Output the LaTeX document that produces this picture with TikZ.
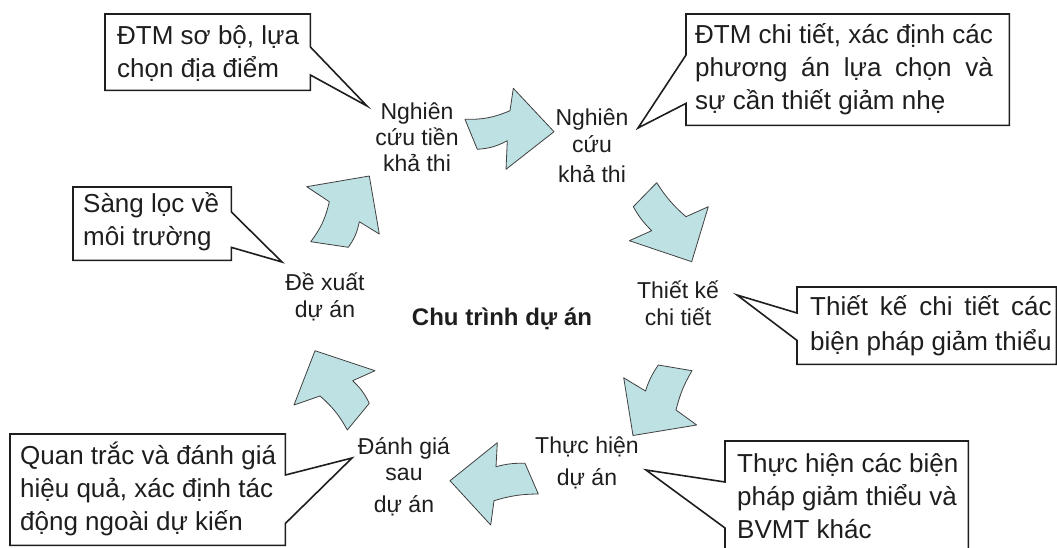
\documentclass[tikz,border=0pt]{standalone}
\usepackage{fontspec}
\setmainfont{Liberation Sans}
\usetikzlibrary{calc}

\definecolor{arrowfill}{RGB}{190,225,228}
\definecolor{ink}{RGB}{30,30,30}
\newlength\fullline

\begin{document}
\begin{tikzpicture}[x=1pt,y=-1pt,
  stage/.style={align=center, font=\fontsize{23}{26}\selectfont, inner sep=0pt, text=ink, anchor=base},
  note/.style={align=left, font=\fontsize{26}{33}\selectfont, inner sep=0pt, anchor=base west, text=ink},
  box/.style={rectangle, draw=none, inner sep=0pt, anchor=north west},
  callout/.style={draw=ink, line width=1.6pt, fill=white, line join=miter},
  blockarrow/.style={fill=arrowfill, draw=black!75, line width=0.8pt, line join=round},
]
\useasboundingbox (0,0) rectangle (1057,548);

% ---- stages of the cycle (positioned by the baseline of their last line) ----
\node[stage] (s1) at (417,172) {Nghiên\\cứu tiền\\khả thi};
\node[stage] (s2) at (592,183) {Nghiên\\[1pt]cứu\\[5pt]khả thi};
\node[stage] (s3) at (678,325) {Thiết kế\\[1pt]chi tiết};
\node[stage] (s4) at (587,485) {Thực hiện\\[6pt]dự án};
\node[stage] (s5) at (404,512) {Đánh giá\\sau\\[6pt]dự án};
\node[stage] (s6) at (325,317) {Đề xuất\\[1pt]dự án};
\node[font=\fontsize{24}{28}\selectfont\bfseries, text=ink, inner sep=0pt, anchor=base] (title) at (502,325) {Chu trình dự án};

% ---- curved block arrows between the stages ----
\draw[blockarrow] (465,119.3) to[bend right=12] (510,110.7) -- (513.3,88.3) -- (554,131.7)
  -- (506,169.3) -- (507.3,140.7) to[bend left=12] (477.3,149.3) -- cycle;
\draw[blockarrow] (656.7,182.7) to[bend right=8] (686,216.7) -- (708.3,206.7) -- (691.7,261.7)
  -- (629.3,240.7) -- (651.7,230.7) to[bend left=8] (633.3,206.7) -- cycle;
\draw[blockarrow] (692,370.7) to[bend right=8] (676,410) -- (696.7,425) -- (633,435.5)
  -- (623.7,377.8) -- (645.5,391) to[bend left=8] (658.3,365) -- cycle;
\draw[blockarrow] (538.3,494) to[bend right=8] (494,500.7) -- (490.7,525) -- (450,480.7)
  -- (497.3,442.7) -- (496,466.7) to[bend left=8] (525,463.3) -- cycle;
\draw[blockarrow] (347.3,430) to[bend right=10] (320,396) -- (294,405) -- (315,350.7)
  -- (375,370.7) -- (352.7,380.7) to[bend left=10] (369.3,403.3) -- cycle;
\draw[blockarrow] (310.7,241.7) to[bend right=12] (329.3,201.7) -- (306.7,186.7) -- (369.3,176)
  -- (379.3,234) -- (359.3,221.7) to[bend left=12] (348.3,247.3) -- cycle;

% ---- callout boxes and their pointers ----
\coordinate (t1) at (367,106);
\coordinate (t2) at (638,128);
\coordinate (t3) at (282,262);
\coordinate (t4) at (737,295);
\coordinate (t5) at (646,470);
\coordinate (t6) at (352,458);

\node[box, minimum width=205, minimum height=76] (c1) at (105,14) {};
\draw[callout] (c1.north west) -- (c1.north east) -- ([yshift=-33pt]c1.north east) -- (t1)
  -- ([yshift=-61pt]c1.north east) -- (c1.south east) -- (c1.south west) -- cycle;
\node[note] (n1) at (117,78) {ĐTM sơ bộ, lựa\\chọn địa điểm};

\node[box, minimum width=323, minimum height=111] (c2) at (686,14) {};
\draw[callout] (c2.north west) -- (c2.north east) -- (c2.south east) -- (c2.south west)
  -- ([yshift=22pt]c2.south west) -- (t2) -- ([yshift=-41pt]c2.north west) -- cycle;
\node[note] (n2) at (695,110) {ĐTM chi tiết, xác định các\\
  \settowidth{\fullline}{ĐTM chi tiết, xác định các}\makebox[\fullline][s]{phương án lựa chọn và}\\
  sự cần thiết giảm nhẹ};

\node[box, minimum width=158, minimum height=73] (c3) at (73,187) {};
\draw[callout] (c3.north west) -- (c3.north east) -- ([yshift=-25pt]c3.north east) -- (t3)
  -- ([yshift=13pt]c3.south east) -- (c3.south east) -- (c3.south west) -- cycle;
\node[note] (n3) at (83,245) {Sàng lọc về\\môi trường};

\node[box, minimum width=259, minimum height=77] (c4) at (797,287) {};
\draw[callout] (c4.north west) -- (c4.north east) -- (c4.south east) -- (c4.south west)
  -- ([yshift=24pt]c4.south west) -- (t4) -- ([yshift=-26pt]c4.north west) -- cycle;
\node[note] (n4) at (810,350) {%
  \settowidth{\fullline}{biện pháp giảm thiểu}\makebox[\fullline][s]{Thiết kế chi tiết các}\\[2pt]
  biện pháp giảm thiểu};

\node[box, minimum width=243, minimum height=112] (c5) at (725,441) {};
\draw[callout] (c5.south west) -- ([yshift=-87pt]c5.north west) -- (t5)
  -- ([yshift=-41pt]c5.north west) -- (c5.north west) -- (c5.north east) -- (c5.south east);
\node[note] (n5) at (737,538) {Thực hiện các biện\\pháp giảm thiểu và\\BVMT khác};

\node[box, minimum width=275, minimum height=111] (c6) at (10,434) {};
\draw[callout] (c6.north west) -- (c6.north east) -- ([yshift=-41pt]c6.north east) -- (t6)
  -- ([yshift=22pt]c6.south east) -- (c6.south east) -- (c6.south west) -- cycle;
\node[note] (n6) at (20,530) {Quan trắc và đánh giá\\hiệu quả, xác định tác\\động ngoài dự kiến};
\end{tikzpicture}
\end{document}
